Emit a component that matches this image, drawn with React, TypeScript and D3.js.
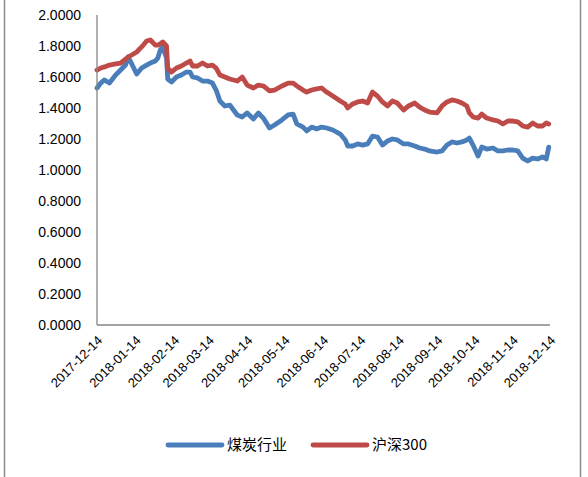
import React from "react";
import * as d3 from "d3";

const dates: string[] = [
  "2017-12-14","2017-12-17","2017-12-20","2017-12-24","2017-12-29","2018-01-02","2018-01-06","2018-01-08","2018-01-11","2018-01-15",
  "2018-01-19","2018-01-23","2018-01-26","2018-01-30","2018-02-01","2018-02-03","2018-02-05","2018-02-08","2018-02-09","2018-02-12",
  "2018-02-16","2018-02-20","2018-02-24","2018-02-27","2018-03-01","2018-03-05","2018-03-09","2018-03-13","2018-03-17","2018-03-20",
  "2018-03-23","2018-03-27","2018-03-31","2018-04-06","2018-04-10","2018-04-14","2018-04-19","2018-04-23","2018-04-27","2018-05-02",
  "2018-05-06","2018-05-12","2018-05-17","2018-05-21","2018-05-24","2018-05-29","2018-06-01","2018-06-05","2018-06-09","2018-06-13",
  "2018-06-17","2018-06-22","2018-06-28","2018-07-02","2018-07-04","2018-07-08","2018-07-12","2018-07-16","2018-07-20","2018-07-24",
  "2018-07-28","2018-08-01","2018-08-05","2018-08-09","2018-08-13","2018-08-18","2018-08-22","2018-08-27","2018-08-31","2018-09-04",
  "2018-09-08","2018-09-14","2018-09-18","2018-09-22","2018-09-26","2018-09-30","2018-10-04","2018-10-08","2018-10-10","2018-10-13",
  "2018-10-17","2018-10-20","2018-10-24","2018-10-29","2018-11-02","2018-11-06","2018-11-10","2018-11-14","2018-11-18","2018-11-22",
  "2018-11-26","2018-11-30","2018-12-04","2018-12-08","2018-12-11","2018-12-13",
];

const coal: number[] = [
  1.529,1.561,1.581,1.561,1.613,1.645,1.677,1.729,1.684,1.619,
  1.658,1.677,1.690,1.703,1.723,1.774,1.794,1.723,1.587,1.568,
  1.600,1.613,1.632,1.632,1.600,1.594,1.574,1.574,1.561,1.516,
  1.445,1.413,1.419,1.355,1.342,1.368,1.329,1.368,1.335,1.271,
  1.290,1.323,1.355,1.361,1.297,1.277,1.252,1.277,1.265,1.277,
  1.271,1.258,1.232,1.194,1.155,1.155,1.168,1.161,1.168,1.219,
  1.213,1.161,1.187,1.200,1.194,1.168,1.168,1.155,1.142,1.135,
  1.123,1.116,1.123,1.161,1.181,1.174,1.181,1.194,1.206,1.161,
  1.090,1.148,1.135,1.142,1.123,1.123,1.129,1.129,1.123,1.077,
  1.058,1.077,1.071,1.084,1.071,1.148,
];

const hs300: number[] = [
  1.645,1.658,1.665,1.677,1.684,1.690,1.716,1.729,1.742,1.761,
  1.794,1.832,1.839,1.806,1.806,1.813,1.826,1.800,1.658,1.632,
  1.658,1.671,1.690,1.703,1.671,1.671,1.690,1.671,1.677,1.658,
  1.613,1.600,1.587,1.574,1.600,1.548,1.529,1.548,1.542,1.510,
  1.516,1.542,1.561,1.561,1.542,1.516,1.503,1.516,1.523,1.529,
  1.503,1.477,1.445,1.426,1.400,1.426,1.439,1.445,1.432,1.503,
  1.477,1.439,1.413,1.445,1.432,1.387,1.413,1.432,1.406,1.387,
  1.374,1.368,1.413,1.439,1.452,1.445,1.432,1.413,1.368,1.342,
  1.335,1.361,1.335,1.323,1.316,1.297,1.316,1.316,1.310,1.284,
  1.277,1.303,1.284,1.284,1.303,1.297,
];

const xTickLabels: string[] = [
  "2017-12-14","2018-01-14","2018-02-14","2018-03-14","2018-04-14","2018-05-14","2018-06-14",
  "2018-07-14","2018-08-14","2018-09-14","2018-10-14","2018-11-14","2018-12-14",
];
const yTicks: number[] = [0, 0.2, 0.4, 0.6, 0.8, 1.0, 1.2, 1.4, 1.6, 1.8, 2.0];
const seriesNames: string[] = ["煤炭行业", "沪深300"];
const seriesColors: string[] = ["#4A7EBB", "#BE4B48"];

const W = 588;
const H = 477;
const left = 97;
const right = 550;
const top = 15;
const bottom = 325;

export default function App() {
  const parse = d3.timeParse("%Y-%m-%d");
  const x = d3
    .scaleTime()
    .domain([parse(xTickLabels[0])!, parse(xTickLabels[xTickLabels.length - 1])!])
    .range([left, right]);
  const y = d3.scaleLinear().domain([0, 2]).range([bottom, top]);
  const series = [coal, hs300];
  const line = d3
    .line<[Date, number]>()
    .x((d) => x(d[0]))
    .y((d) => y(d[1]));
  const font = "'Liberation Sans', Arial, sans-serif";
  const cjk = "'Noto Sans CJK SC', 'Liberation Sans', sans-serif";

  return (
    <svg
      width={W}
      height={H}
      style={{ position: "absolute", left: 0, top: 0, background: "#fff" }}
    >
      <rect x={0} y={0} width={W} height={H} fill="#fff" />
      <line x1={4.5} x2={4.5} y1={0} y2={H} stroke="#8a8a8a" strokeWidth={1.5} />
      <line x1={580.5} x2={580.5} y1={0} y2={H} stroke="#8a8a8a" strokeWidth={1.5} />

      {yTicks.map((t) => (
        <text
          key={t}
          x={81}
          y={y(t)}
          dy="0.35em"
          textAnchor="end"
          fontFamily={font}
          fontSize={14}
          fill="#000"
        >
          {d3.format(".4f")(t)}
        </text>
      ))}

      {xTickLabels.map((s) => {
        const px = x(parse(s)!);
        return (
          <text
            key={s}
            transform={`translate(${px + 3},${bottom + 13}) rotate(-45)`}
            textAnchor="end"
            dy="0.35em"
            fontFamily={font}
            fontSize={13}
            fill="#000"
          >
            {s}
          </text>
        );
      })}

      {series.map((vals, i) => {
        const pts: [Date, number][] = vals.map((v, j) => [parse(dates[j])!, v]);
        return (
          <path
            key={i}
            d={line(pts) || ""}
            fill="none"
            stroke={seriesColors[i]}
            strokeWidth={4.8}
            strokeLinejoin="round"
            strokeLinecap="round"
          />
        );
      })}

      <line x1={left} x2={left} y1={top} y2={bottom} stroke="#868686" strokeWidth={1.3} />
      <line x1={left} x2={right} y1={bottom} y2={bottom} stroke="#868686" strokeWidth={1.3} />

      {seriesNames.map((name, i) => {
        const lx = i === 0 ? 168 : 313;
        return (
          <g key={name}>
            <line
              x1={lx}
              x2={lx + 54}
              y1={445}
              y2={445}
              stroke={seriesColors[i]}
              strokeWidth={4.8}
              strokeLinecap="round"
            />
            <text x={lx + 59} y={445} dy="0.35em" fontFamily={cjk} fontSize={15} fill="#000">
              {name}
            </text>
          </g>
        );
      })}
    </svg>
  );
}
